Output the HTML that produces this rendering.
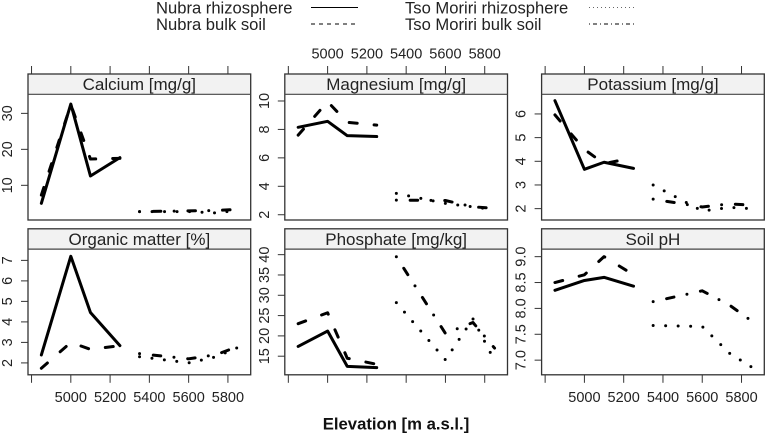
<!DOCTYPE html>
<html lang="en">
<head>
<meta charset="utf-8">
<title>Soil properties by elevation</title>
<style>
html,body{margin:0;padding:0;background:#fff;}
svg{display:block;}
text{font-family:"Liberation Sans",Arial,sans-serif;fill:#222;}
</style>
</head>
<body>
<svg id="chart" xmlns="http://www.w3.org/2000/svg" width="767" height="435" viewBox="0 0 767 435">
  <g>
    <text x="156" y="13.5" font-size="16.6">Nubra rhizosphere</text>
    <line x1="311" x2="358" y1="7.5" y2="7.5" stroke="#000" stroke-width="1"/>
    <text x="156" y="30" font-size="16.6">Nubra bulk soil</text>
    <line x1="311" x2="358" y1="24" y2="24" stroke="#000" stroke-width="1" stroke-dasharray="4 4"/>
    <text x="405" y="13.5" font-size="16.6">Tso Moriri rhizosphere</text>
    <line x1="589" x2="637" y1="7.5" y2="7.5" stroke="#666" stroke-width="1" stroke-dasharray="1 3"/>
    <text x="405" y="30" font-size="16.6">Tso Moriri bulk soil</text>
    <line x1="589" x2="637" y1="24" y2="24" stroke="#000" stroke-width="1" stroke-dasharray="1 3 4 3"/>
  </g>
  <text x="396" y="429.5" font-size="16.7" font-weight="bold" text-anchor="middle" style="fill:#111">Elevation [m a.s.l.]</text>
</svg>
<script>
// Shared elevations (m a.s.l.)
const nubraElevation = [4850, 5000, 5100, 5250];
const tsoElevation = [5350, 5600, 5740, 5850];
const xTicks = [4800, 5000, 5200, 5400, 5600, 5800];
const xDomain = [4782, 5916];

// Calcium [mg/g]
const calciumNubraRhizosphere = [5, 32.6, 12.6, 17.7];
const calciumNubraBulk = [7.3, 32.4, 17.3, 17.5];
const calciumTsoRhizosphere = [2.7, 2.7, 2.3, 3.1];
const calciumTsoBulk = [2.7, 2.9, 3.0, 3.3];
const calciumTicks = [10, 20, 30];
const calciumDomain = [0.36, 35.3];

// Magnesium [mg/g]
const magnesiumNubraRhizosphere = [8.15, 8.57, 7.56, 7.5];
const magnesiumNubraBulk = [7.6, 9.95, 8.5, 8.3];
const magnesiumTsoRhizosphere = [3.5, 2.8, 2.55, 2.35];
const magnesiumTsoBulk = [3.03, 3.0, 2.56, 2.45];
const magnesiumTicks = [2, 4, 6, 8, 10];
const magnesiumDomain = [1.63, 10.47];

// Potassium [mg/g]
const potassiumNubraRhizosphere = [6.56, 3.66, 3.96, 3.7];
const potassiumNubraBulk = [5.96, 4.5, 3.9, 4.15];
const potassiumTsoRhizosphere = [3.0, 1.9, 2.05, 2.0];
const potassiumTsoBulk = [2.4, 2.07, 2.2, 2.15];
const potassiumTicks = [2, 3, 4, 5, 6];
const potassiumDomain = [1.52, 6.83];

// Organic matter [%]
const organicNubraRhizosphere = [2.39, 7.2, 4.46, 2.84];
const organicNubraBulk = [1.74, 3.0, 2.66, 2.84];
const organicTsoRhizosphere = [2.3, 2.0, 2.3, 2.75];
const organicTsoBulk = [2.45, 2.2, 2.4, 2.8];
const organicTicks = [2, 3, 4, 5, 6, 7];
const organicDomain = [1.42, 7.55];

// Phosphate [mg/kg]
const phosphateNubraRhizosphere = [17.4, 21.2, 12.5, 12.2];
const phosphateNubraBulk = [23, 25.7, 14.5, 13];
const phosphateTsoRhizosphere = [28.2, 14.1, 24.2, 13.9];
const phosphateTsoBulk = [39.5, 20.6, 23.3, 17];
const phosphateTicks = [15, 20, 25, 30, 35, 40];
const phosphateDomain = [10.42, 41.37];

// Soil pH
const phNubraRhizosphere = [8.35, 8.54, 8.6, 8.43];
const phNubraBulk = [8.5, 8.65, 9.0, 8.65];
const phTsoRhizosphere = [7.67, 7.65, 7.13, 6.87];
const phTsoBulk = [8.13, 8.34, 8.06, 7.76];
const phTicks = ["7.0", "7.5", "8.0", "8.5", "9.0"];
const phDomain = [6.717, 9.146];

const panelTitles = ["Calcium [mg/g]", "Magnesium [mg/g]", "Potassium [mg/g]", "Organic matter [%]", "Phosphate [mg/kg]", "Soil pH"];
const panelKeys = ["calcium", "magnesium", "potassium", "organic-matter", "phosphate", "soil-ph"];
const panelTicks = [calciumTicks, magnesiumTicks, potassiumTicks, organicTicks, phosphateTicks, phTicks];
const panelDomains = [calciumDomain, magnesiumDomain, potassiumDomain, organicDomain, phosphateDomain, phDomain];
const panelSeries = [
  [calciumNubraRhizosphere, calciumNubraBulk, calciumTsoRhizosphere, calciumTsoBulk],
  [magnesiumNubraRhizosphere, magnesiumNubraBulk, magnesiumTsoRhizosphere, magnesiumTsoBulk],
  [potassiumNubraRhizosphere, potassiumNubraBulk, potassiumTsoRhizosphere, potassiumTsoBulk],
  [organicNubraRhizosphere, organicNubraBulk, organicTsoRhizosphere, organicTsoBulk],
  [phosphateNubraRhizosphere, phosphateNubraBulk, phosphateTsoRhizosphere, phosphateTsoBulk],
  [phNubraRhizosphere, phNubraBulk, phTsoRhizosphere, phTsoBulk]
];
const seriesKeys = ["nubra-rhizosphere", "nubra-bulk-soil", "tso-moriri-rhizosphere", "tso-moriri-bulk-soil"];

const SVG_NS = "http://www.w3.org/2000/svg";
const chart = document.getElementById("chart");
const columnLefts = [28, 284.8, 541.6];
const rowTops = [74, 228.8];
const panelWidth = 222.7;
const panelHeight = 146;
const stripHeight = 20.3;
const tickLength = 8;
const seriesDash = ["", "8 17", "0 12.5", "0 13.8 7.5 13.3"];

function make(tag, attrs, parent) {
  const el = document.createElementNS(SVG_NS, tag);
  for (const k in attrs) el.setAttribute(k, attrs[k]);
  parent.appendChild(el);
  return el;
}

function drawPanel(index) {
  const col = index % 3;
  const row = Math.floor(index / 3);
  const left = columnLefts[col];
  const top = rowTops[row];
  const right = left + panelWidth;
  const bottom = top + panelHeight;
  const plotTop = top + stripHeight;
  const domain = panelDomains[index];
  const xScale = v => left + (v - xDomain[0]) / (xDomain[1] - xDomain[0]) * panelWidth;
  const yScale = v => bottom - (v - domain[0]) / (domain[1] - domain[0]) * (bottom - plotTop);
  const key = panelKeys[index];

  const g = make("g", {}, chart);
  
  

  const strip = make("rect", {x: left, y: top, width: panelWidth, height: stripHeight, fill: "#f2f2f2"}, g);
  
  

  const title = make("text", {x: (left + right) / 2, y: top + 16, "font-size": 17, "text-anchor": "middle"}, g);
  
  
  title.textContent = panelTitles[index];

  panelSeries[index].forEach((values, s) => {
    const elevations = s < 2 ? nubraElevation : tsoElevation;
    const d = values.map((v, i) => (i ? "L" : "M") + xScale(elevations[i]).toFixed(2) + " " + yScale(v).toFixed(2)).join(" ");
    const line = make("path", {d: d, fill: "none", stroke: "#000", "stroke-width": 3, "stroke-linecap": "round", "stroke-linejoin": "round"}, g);
    if (seriesDash[s]) line.setAttribute("stroke-dasharray", seriesDash[s]);
    
    
  });

  const frame = make("rect", {x: left, y: top, width: panelWidth, height: panelHeight, fill: "none", stroke: "#333", "stroke-width": 1.3}, g);
  
  

  const divider = make("line", {x1: left, x2: right, y1: plotTop, y2: plotTop, stroke: "#444", "stroke-width": 1.2}, g);
  
  

  panelTicks[index].forEach(t => {
    const y = yScale(parseFloat(t));
    const tick = make("line", {x1: left - 7, x2: left, y1: y, y2: y, stroke: "#333", "stroke-width": 1}, g);
    
    
    const label = make("text", {transform: "translate(" + (left - 16) + " " + y + ") rotate(-90)", "font-size": 14.5, "text-anchor": "middle"}, g);
    
    
    label.textContent = t;
  });

  xTicks.forEach(t => {
    const x = xScale(t);
    const y1 = row === 0 ? top - tickLength : bottom;
    const y2 = row === 0 ? top : bottom + tickLength;
    const tick = make("line", {x1: x, x2: x, y1: y1, y2: y2, stroke: "#333", "stroke-width": 1}, g);
    
    
    const labelled = t !== xTicks[0] && ((row === 0 && col === 1) || (row === 1 && col !== 1));
    if (labelled) {
      const label = make("text", {x: x, y: row === 0 ? 58.5 : 402, "font-size": 14.5, "text-anchor": "middle"}, g);
      
      
      label.textContent = t;
    }
  });
}

panelTitles.forEach((_, i) => drawPanel(i));
</script>
</body>
</html>
